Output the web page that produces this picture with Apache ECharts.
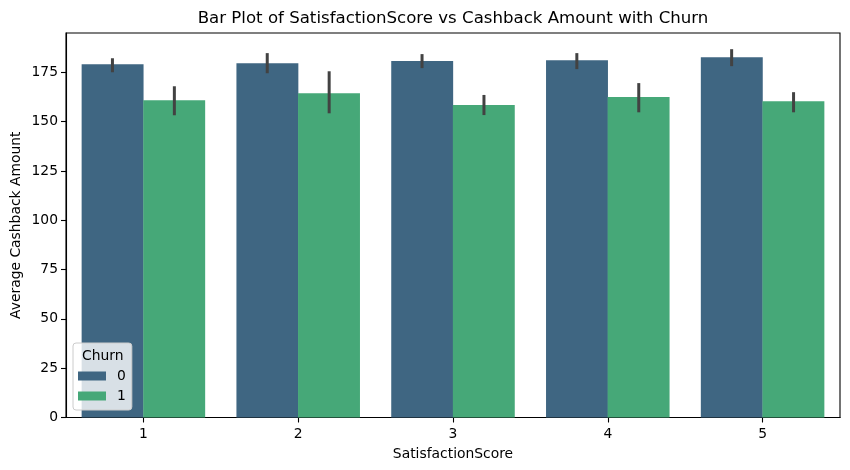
<!DOCTYPE html>
<html><head><meta charset="utf-8">
<style>html,body{margin:0;padding:0;background:#fff}#c{width:850px;height:470px}</style>
<script src="https://cdn.jsdelivr.net/npm/echarts@6/dist/echarts.min.js"></script>
</head><body><div id="c"></div>
<script>
const categories = ['1','2','3','4','5'];
const churn0 = [179.1,179.6,180.7,181.1,182.6];
const churn1 = [160.8,164.4,158.4,162.4,160.3];
const churn0Low = [175,174.5,177.1,176.6,178.1];
const churn0High = [182.1,184.7,184.2,184.7,186.7];
const churn1Low = [153.2,154.2,153.3,154.7,154.7];
const churn1High = [167.9,175.5,163.5,169.5,164.9];
const font = 'DejaVu Sans';
const chart = echarts.init(document.getElementById('c'), null, {renderer:'canvas'});
function errSeries(name, low, high, sign){
  return {
    type:'custom', name, silent:true, z:5, legendHoverLink:false,
    data: categories.map((c,i)=>[i,low[i],high[i]]),
    renderItem(params, api){
      const a = api.coord([api.value(0), api.value(1)]);
      const b = api.coord([api.value(0), api.value(2)]);
      const off = sign * api.size([1,0])[0] * 0.2;
      return {type:'line', shape:{x1:a[0]+off,y1:a[1],x2:b[0]+off,y2:b[1]},
        style:{stroke:'#424242',lineWidth:3}};
    }
  };
}
chart.setOption({
  animation:false,
  backgroundColor:'#fff',
  textStyle:{fontFamily:font},
  title:{text:'Bar Plot of SatisfactionScore vs Cashback Amount with Churn',left:448,top:5,textAlign:'center',
    textStyle:{fontFamily:font,fontSize:16.6,fontWeight:'normal',color:'#000'}},
  grid:{left:66,right:10,top:33,bottom:52.5,outerBoundsMode:'none',show:true,borderColor:'#000',borderWidth:1.1,backgroundColor:'transparent'},
  xAxis:{type:'category',data:categories,name:'SatisfactionScore',nameLocation:'middle',nameGap:30,nameMoveOverlap:false,
    nameTextStyle:{fontFamily:font,fontSize:13.89,color:'#000'},
    axisLine:{show:true,lineStyle:{color:'#000',width:1.1}},
    axisTick:{show:true,alignWithLabel:true,length:5,lineStyle:{color:'#000',width:1.1}},
    axisLabel:{fontFamily:font,fontSize:13.89,color:'#000',margin:10},splitLine:{show:false}},
  yAxis:{type:'value',min:0,max:194.9,interval:25,name:'Average Cashback Amount',nameLocation:'middle',nameGap:43,nameMoveOverlap:false,
    nameTextStyle:{fontFamily:font,fontSize:13.89,color:'#000'},
    axisLine:{show:true,lineStyle:{color:'#000',width:1.1}},
    axisTick:{show:true,length:5,lineStyle:{color:'#000',width:1.1}},
    axisLabel:{fontFamily:font,fontSize:13.89,color:'#000',margin:8,showMaxLabel:false},splitLine:{show:false}},
  legend:{data:['0','1'],orient:'vertical',left:73,top:343,icon:'rect',
    padding:[26,6,7,5],itemGap:6,itemWidth:28,itemHeight:9,
    backgroundColor:'rgba(255,255,255,0.8)',borderColor:'#ccc',borderWidth:1,borderRadius:3,z:10,
    selectedMode:false,
    textStyle:{fontFamily:font,fontSize:13.89,color:'#000',padding:[0,0,0,6]},
    itemStyle:{borderWidth:0}},
  graphic:[{type:'text',z:100,left:82,top:349,style:{text:'Churn',fontFamily:font,fontSize:13.89,fill:'#000'}}],
  series:[
    {type:'bar',name:'0',data:churn0,barWidth:'40%',barGap:'-0.5%',itemStyle:{color:'#3f6682'},z:2},
    {type:'bar',name:'1',data:churn1,barWidth:'40%',barGap:'-0.5%',itemStyle:{color:'#46a878'},z:2},
    errSeries('e0',churn0Low,churn0High,-1),
    errSeries('e1',churn1Low,churn1High,1)
  ]
});
</script></body></html>
